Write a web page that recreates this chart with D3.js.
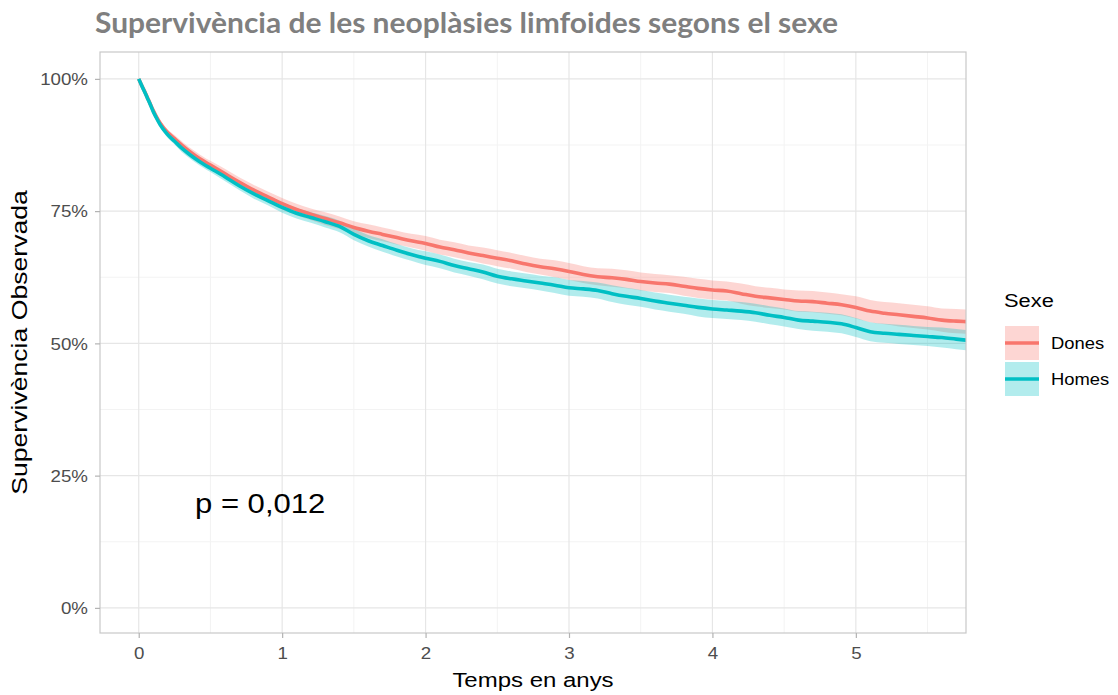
<!DOCTYPE html>
<html>
<head>
<meta charset="utf-8">
<script src="https://cdn.jsdelivr.net/npm/d3@7"></script>
<style>
  html, body { margin: 0; padding: 0; background: #ffffff; }
  svg { display: block; }
</style>
</head>
<body>
<svg id="chart" width="1118" height="695"></svg>
<script>
// Kaplan-Meier observed survival by sex (years since diagnosis)
const times = [0, 0.02, 0.04, 0.06, 0.08, 0.1, 0.12, 0.15, 0.2, 0.25, 0.3, 0.35, 0.4, 0.45, 0.5,
  0.6, 0.7, 0.8, 0.9, 1.0, 1.1, 1.2, 1.3, 1.4, 1.5, 1.6, 1.7, 1.8, 1.9, 2.0,
  2.1, 2.2, 2.3, 2.4, 2.5, 2.6, 2.7, 2.8, 2.9, 3.0,
  3.1, 3.2, 3.3, 3.4, 3.5, 3.6, 3.7, 3.8, 3.9, 4.0,
  4.1, 4.2, 4.3, 4.4, 4.5, 4.6, 4.7, 4.8, 4.9, 5.0,
  5.1, 5.2, 5.3, 5.4, 5.5, 5.6, 5.7, 5.77];

const survDones = [1.000, 0.988, 0.977, 0.965, 0.953, 0.941, 0.930, 0.916, 0.899, 0.887, 0.875, 0.864, 0.854, 0.845, 0.837,
  0.821, 0.805, 0.790, 0.777, 0.764, 0.753, 0.744, 0.736, 0.728, 0.719, 0.712, 0.706, 0.700, 0.694, 0.689,
  0.682, 0.677, 0.671, 0.666, 0.661, 0.656, 0.650, 0.645, 0.641, 0.636,
  0.630, 0.626, 0.624, 0.621, 0.617, 0.614, 0.612, 0.608, 0.604, 0.601,
  0.599, 0.594, 0.589, 0.586, 0.583, 0.580, 0.579, 0.576, 0.573, 0.568,
  0.561, 0.557, 0.554, 0.551, 0.548, 0.544, 0.542, 0.541];

const survHomes = [1.000, 0.988, 0.976, 0.964, 0.952, 0.939, 0.928, 0.913, 0.895, 0.882, 0.869, 0.858, 0.848, 0.839, 0.831,
  0.815, 0.798, 0.783, 0.770, 0.757, 0.746, 0.738, 0.730, 0.721, 0.706, 0.694, 0.685, 0.676, 0.668, 0.661,
  0.655, 0.647, 0.641, 0.635, 0.627, 0.622, 0.618, 0.614, 0.610, 0.605,
  0.603, 0.600, 0.594, 0.589, 0.585, 0.580, 0.576, 0.572, 0.568, 0.565,
  0.563, 0.561, 0.558, 0.553, 0.549, 0.544, 0.542, 0.540, 0.537, 0.530,
  0.522, 0.519, 0.517, 0.515, 0.513, 0.511, 0.508, 0.506];

// 95% confidence interval bounds
const lowerDones = [1.000, 0.986, 0.974, 0.961, 0.949, 0.936, 0.925, 0.910, 0.893, 0.880, 0.868, 0.857, 0.846, 0.837, 0.829,
  0.812, 0.796, 0.780, 0.767, 0.753, 0.742, 0.733, 0.724, 0.716, 0.707, 0.699, 0.693, 0.687, 0.681, 0.675,
  0.668, 0.663, 0.657, 0.651, 0.646, 0.641, 0.635, 0.630, 0.625, 0.620,
  0.614, 0.610, 0.607, 0.604, 0.600, 0.597, 0.595, 0.590, 0.586, 0.583,
  0.581, 0.575, 0.570, 0.567, 0.564, 0.560, 0.559, 0.556, 0.553, 0.547,
  0.540, 0.536, 0.532, 0.529, 0.526, 0.522, 0.519, 0.518];

const upperDones = [1.000, 0.990, 0.980, 0.969, 0.957, 0.946, 0.935, 0.922, 0.905, 0.894, 0.882, 0.871, 0.862, 0.853, 0.845,
  0.830, 0.814, 0.800, 0.787, 0.775, 0.764, 0.755, 0.748, 0.740, 0.731, 0.725, 0.719, 0.713, 0.707, 0.703,
  0.696, 0.691, 0.685, 0.681, 0.676, 0.671, 0.665, 0.660, 0.657, 0.652,
  0.646, 0.642, 0.641, 0.638, 0.634, 0.631, 0.629, 0.626, 0.622, 0.619,
  0.617, 0.613, 0.608, 0.605, 0.602, 0.600, 0.599, 0.596, 0.593, 0.589,
  0.582, 0.578, 0.576, 0.573, 0.570, 0.566, 0.565, 0.564];

const lowerHomes = [1.000, 0.986, 0.973, 0.960, 0.948, 0.934, 0.923, 0.908, 0.889, 0.876, 0.862, 0.851, 0.841, 0.832, 0.824,
  0.807, 0.790, 0.774, 0.761, 0.747, 0.736, 0.728, 0.719, 0.710, 0.695, 0.683, 0.673, 0.664, 0.656, 0.648,
  0.642, 0.634, 0.628, 0.621, 0.613, 0.608, 0.604, 0.600, 0.595, 0.590,
  0.588, 0.585, 0.578, 0.573, 0.569, 0.564, 0.560, 0.556, 0.551, 0.548,
  0.546, 0.544, 0.541, 0.536, 0.532, 0.527, 0.524, 0.522, 0.519, 0.512,
  0.504, 0.501, 0.499, 0.497, 0.495, 0.492, 0.489, 0.487];

const upperHomes = [1.000, 0.990, 0.979, 0.968, 0.956, 0.944, 0.933, 0.918, 0.901, 0.888, 0.876, 0.865, 0.855, 0.846, 0.838,
  0.823, 0.806, 0.792, 0.779, 0.767, 0.756, 0.748, 0.741, 0.732, 0.717, 0.705, 0.697, 0.688, 0.680, 0.674,
  0.668, 0.660, 0.654, 0.649, 0.641, 0.636, 0.632, 0.628, 0.625, 0.620,
  0.618, 0.615, 0.610, 0.605, 0.601, 0.596, 0.592, 0.588, 0.585, 0.582,
  0.580, 0.578, 0.575, 0.570, 0.566, 0.561, 0.560, 0.558, 0.555, 0.548,
  0.540, 0.537, 0.535, 0.533, 0.531, 0.530, 0.527, 0.525];

const groups = ["Dones", "Homes"];
const xTicks = [0, 1, 2, 3, 4, 5];
const yTicks = [0, 0.25, 0.5, 0.75, 1];
const pValueLabel = "p = 0,012";

const colors = { Dones: "#F8766D", Homes: "#00BFC4" };
const series = [
  { name: "Dones", surv: survDones, lower: lowerDones, upper: upperDones },
  { name: "Homes", surv: survHomes, lower: lowerHomes, upper: upperHomes }
];

const svg = d3.select("#chart");
const panel = { left: 100, right: 966, top: 52, bottom: 633 };
const FONT = "'Liberation Sans', Arial, Helvetica, sans-serif";
const SX = 1.17; // glyph widening along the reading direction

const x = d3.scaleLinear().domain([-0.27, 5.768]).range([panel.left, panel.right]);
const y = d3.scaleLinear().domain([-0.0475, 1.0508]).range([panel.bottom, panel.top]);

// Title
svg.append("text")
  .attr("x", 95).attr("y", 33)
  .attr("font-family", "Lato, 'Open Sans', sans-serif")
  .attr("font-weight", 700)
  .attr("font-size", 28)
  .attr("fill", "#7f7f7f")
  .attr("textLength", 743)
  .attr("lengthAdjust", "spacingAndGlyphs")
  .text("Supervivència de les neoplàsies limfoides segons el sexe");

// Panel background and grid
svg.append("rect")
  .attr("x", panel.left).attr("y", panel.top)
  .attr("width", panel.right - panel.left).attr("height", panel.bottom - panel.top)
  .attr("fill", "#ffffff");

const minorX = xTicks.map(d => d + 0.5).filter(d => x(d) < panel.right);
const minorY = yTicks.slice(0, -1).map(d => d + 0.125);

const grid = svg.append("g");
grid.selectAll(".minx").data(minorX).join("line")
  .attr("x1", d => x(d)).attr("x2", d => x(d))
  .attr("y1", panel.top).attr("y2", panel.bottom)
  .attr("stroke", "#f3f3f3").attr("stroke-width", 1);
grid.selectAll(".miny").data(minorY).join("line")
  .attr("x1", panel.left).attr("x2", panel.right)
  .attr("y1", d => y(d)).attr("y2", d => y(d))
  .attr("stroke", "#f3f3f3").attr("stroke-width", 1);
grid.selectAll(".majx").data(xTicks).join("line")
  .attr("x1", d => x(d)).attr("x2", d => x(d))
  .attr("y1", panel.top).attr("y2", panel.bottom)
  .attr("stroke", "#e6e6e6").attr("stroke-width", 1.2);
grid.selectAll(".majy").data(yTicks).join("line")
  .attr("x1", panel.left).attr("x2", panel.right)
  .attr("y1", d => y(d)).attr("y2", d => y(d))
  .attr("stroke", "#e6e6e6").attr("stroke-width", 1.2);

// Clip curves to the panel
svg.append("clipPath").attr("id", "panel-clip")
  .append("rect")
  .attr("x", panel.left).attr("y", panel.top)
  .attr("width", panel.right - panel.left).attr("height", panel.bottom - panel.top);

const plot = svg.append("g").attr("clip-path", "url(#panel-clip)");

const area = d3.area()
  .x((d, i) => x(times[i]))
  .y0(d => y(d[0]))
  .y1(d => y(d[1]))
  .curve(d3.curveMonotoneX);

const line = d3.line()
  .x((d, i) => x(times[i]))
  .y(d => y(d))
  .curve(d3.curveMonotoneX);

series.forEach(s => {
  plot.append("path")
    .datum(s.lower.map((l, i) => [l, s.upper[i]]))
    .attr("d", area)
    .attr("fill", colors[s.name])
    .attr("fill-opacity", 0.3);
});
series.forEach(s => {
  plot.append("path")
    .datum(s.surv)
    .attr("d", line)
    .attr("fill", "none")
    .attr("stroke", colors[s.name])
    .attr("stroke-width", 3.6)
    .attr("stroke-linejoin", "round");
});

// Panel border
svg.append("rect")
  .attr("x", panel.left).attr("y", panel.top)
  .attr("width", panel.right - panel.left).attr("height", panel.bottom - panel.top)
  .attr("fill", "none").attr("stroke", "#c8c8c8").attr("stroke-width", 1.2);

// Axes
const fmtPct = d3.format(".0%");
const xAxis = svg.append("g")
  .attr("transform", `translate(0,${panel.bottom})`)
  .call(d3.axisBottom(x).tickValues(xTicks).tickSize(5).tickPadding(0).tickFormat(d3.format("d")));
const yAxis = svg.append("g")
  .attr("transform", `translate(${panel.left},0)`)
  .call(d3.axisLeft(y).tickValues(yTicks).tickSize(5).tickPadding(0).tickFormat(fmtPct));

[xAxis, yAxis].forEach(g => {
  g.select(".domain").remove();
  g.selectAll(".tick line").attr("stroke", "#b3b3b3").attr("stroke-width", 1.2);
  g.selectAll(".tick text")
    .attr("font-family", FONT).attr("font-size", 16).attr("fill", "#4d4d4d");
});
xAxis.selectAll(".tick text")
  .attr("y", 0).attr("dy", 0)
  .attr("transform", `translate(0,26) scale(${SX},1)`);
yAxis.selectAll(".tick text")
  .attr("x", 0).attr("dy", "0.36em")
  .attr("transform", `translate(-12,0) scale(${SX},1)`);

// Axis titles
svg.append("text")
  .attr("transform", `translate(${(panel.left + panel.right) / 2},687) scale(${SX},1)`)
  .attr("text-anchor", "middle")
  .attr("font-family", FONT).attr("font-size", 20.5).attr("fill", "#000")
  .text("Temps en anys");

svg.append("text")
  .attr("transform", `translate(27,${(panel.top + panel.bottom) / 2}) rotate(-90) scale(1.21,1)`)
  .attr("text-anchor", "middle")
  .attr("font-family", FONT).attr("font-size", 22).attr("fill", "#000")
  .text("Supervivència Observada");

// p-value annotation
svg.append("text")
  .attr("transform", `translate(195,513) scale(1.15,1)`)
  .attr("font-family", FONT).attr("font-size", 27).attr("fill", "#000")
  .text(pValueLabel);

// Legend
const legend = svg.append("g").attr("transform", "translate(1004,0)");
legend.append("text")
  .attr("transform", `translate(0,307) scale(1.15,1)`)
  .attr("font-family", FONT).attr("font-size", 19).attr("fill", "#000")
  .text("Sexe");

const keyTop = 325, keyH = 36, keyW = 34;
groups.forEach((g, i) => {
  const ky = keyTop + i * keyH;
  legend.append("rect")
    .attr("x", 1).attr("y", ky + 1).attr("width", keyW).attr("height", keyH - 2)
    .attr("fill", colors[g]).attr("fill-opacity", 0.3);
  legend.append("line")
    .attr("x1", 1).attr("x2", keyW + 1)
    .attr("y1", ky + keyH / 2).attr("y2", ky + keyH / 2)
    .attr("stroke", colors[g]).attr("stroke-width", 3.6);
  legend.append("text")
    .attr("transform", `translate(47,${ky + keyH / 2}) scale(1.15,1)`)
    .attr("dy", "0.36em")
    .attr("font-family", FONT).attr("font-size", 16).attr("fill", "#000")
    .text(g);
});
</script>
</body>
</html>
